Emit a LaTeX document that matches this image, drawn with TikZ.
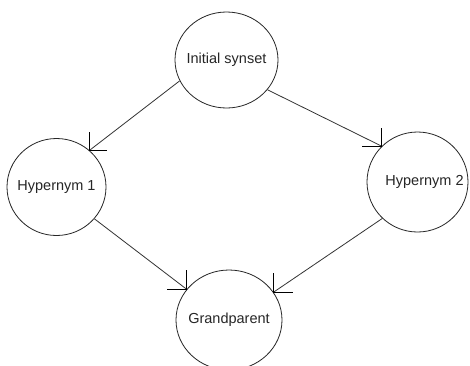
\documentclass[tikz,border=0pt]{standalone}
\usepackage{fontspec}
\setmainfont{Liberation Sans}
\usetikzlibrary{shapes.geometric}
\begin{document}
\begin{tikzpicture}[x=1pt,y=-1pt,
  synset/.style={ellipse,draw=black!85,line width=0.8pt,inner sep=0pt,
    font=\fontsize{14.5}{17}\selectfont,text=black!85},
  edge/.style={draw=black!80,line width=0.8pt},
  tick/.style={draw=black,line width=0.8pt}]
\useasboundingbox (0,0) rectangle (470,365);
\clip (0,0) rectangle (470,365);
\fill[white] (0,0) rectangle (470,365);
\node[synset,minimum width=103pt,minimum height=96pt] (init) at (226.5,60)
  {\makebox[0pt]{\raisebox{-1.5pt}{Initial synset}}};
\node[synset,minimum width=99pt,minimum height=97pt] (h1) at (56.5,187)
  {\makebox[0pt]{\raisebox{-5pt}{Hypernym 1}}};
\node[synset,minimum width=101pt,minimum height=100pt] (h2) at (417.5,182)
  {\makebox[0pt]{\hspace{14pt}\raisebox{-6pt}{Hypernym 2}}};
\node[synset,minimum width=106pt,minimum height=100pt] (gp) at (229,320)
  {\makebox[0pt]{\raisebox{-1.5pt}{Grandparent}}};
\coordinate (t1) at (h1.48.9);
\coordinate (t2) at (h2.135.4);
\coordinate (t3) at (gp.144.5);
\coordinate (t4) at (gp.32.7);
\draw[edge] (init.204.2) -- (t1);
\draw[edge] (init.324.4) -- (t2);
\draw[edge] (h1.320.4) -- (t3);
\draw[edge] (h2.226.2) -- (t4);
\draw[tick] (t1) ++(0,-18) -- (t1) -- ++(17,0);
\draw[tick] (t2) ++(0,-18) -- (t2) -- ++(-20,0);
\draw[tick] (t3) ++(0,-19) -- (t3) -- ++(-20,0);
\draw[tick] (t4) ++(0,-19) -- (t4) -- ++(19,0);
\end{tikzpicture}
\end{document}
